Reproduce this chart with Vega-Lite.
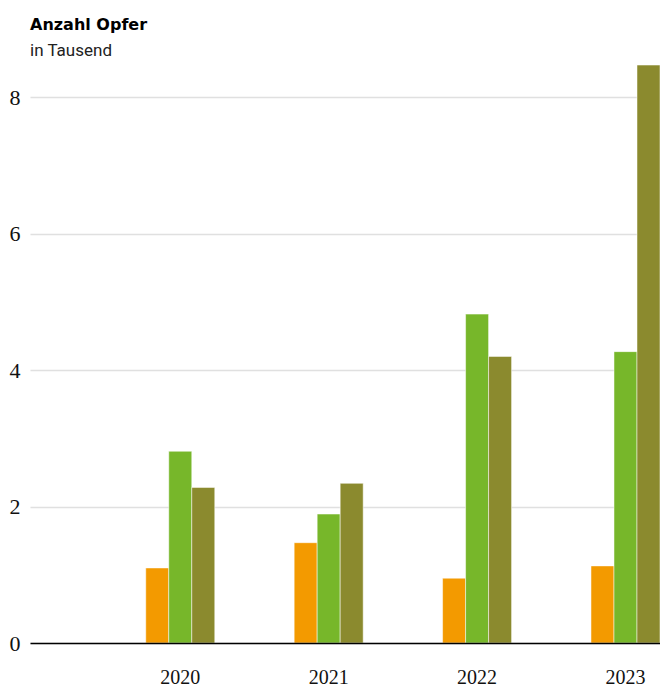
{
  "$schema": "https://vega.github.io/schema/vega-lite/v6.json",
  "autosize": "none",
  "width": 630,
  "height": 580,
  "padding": {"left": 30, "top": 63, "right": 0, "bottom": 44},
  "background": "white",
  "title": {
    "text": "Anzahl Opfer",
    "subtitle": "in Tausend",
    "anchor": "start",
    "frame": "group",
    "font": "DejaVu Sans",
    "fontSize": 16,
    "fontWeight": "bold",
    "color": "#000000",
    "subtitleFont": "Roboto",
    "subtitleFontSize": 17,
    "subtitleColor": "#222222",
    "subtitlePadding": 10,
    "offset": 4
  },
  "data": {
    "values": [
      {"year": "2020", "series": "Serie 1", "value": 1.10},
      {"year": "2020", "series": "Serie 2", "value": 2.81},
      {"year": "2020", "series": "Serie 3", "value": 2.28},
      {"year": "2021", "series": "Serie 1", "value": 1.47},
      {"year": "2021", "series": "Serie 2", "value": 1.89},
      {"year": "2021", "series": "Serie 3", "value": 2.34},
      {"year": "2022", "series": "Serie 1", "value": 0.95},
      {"year": "2022", "series": "Serie 2", "value": 4.82},
      {"year": "2022", "series": "Serie 3", "value": 4.20},
      {"year": "2023", "series": "Serie 1", "value": 1.13},
      {"year": "2023", "series": "Serie 2", "value": 4.27},
      {"year": "2023", "series": "Serie 3", "value": 8.47}
    ]
  },
  "mark": {"type": "bar", "stroke": "white", "strokeWidth": 1, "strokeOpacity": 0.5},
  "encoding": {
    "x": {
      "field": "year",
      "type": "ordinal",
      "scale": {"paddingInner": 0.535, "paddingOuter": 0.39, "align": 1},
      "axis": {
        "title": null,
        "labelAngle": 0,
        "labelFont": "Liberation Serif",
        "labelFontSize": 20,
        "labelColor": "#111111",
        "labelPadding": 24,
        "ticks": false,
        "domain": true,
        "domainColor": "#000000",
        "domainWidth": 1.3,
        "grid": false,
        "zindex": 1
      }
    },
    "xOffset": {
      "field": "series",
      "type": "nominal",
      "scale": {"paddingInner": 0, "paddingOuter": 0}
    },
    "y": {
      "field": "value",
      "type": "quantitative",
      "scale": {"domain": [0, 8.5], "nice": false},
      "axis": {
        "title": null,
        "values": [0, 2, 4, 6, 8],
        "labelFont": "Liberation Serif",
        "labelFontSize": 22,
        "labelColor": "#111111",
        "labelPadding": 10,
        "ticks": false,
        "domain": false,
        "grid": true,
        "gridColor": "#e0e0e0",
        "gridWidth": 1.5
      }
    },
    "color": {
      "field": "series",
      "type": "nominal",
      "scale": {"domain": ["Serie 1", "Serie 2", "Serie 3"], "range": ["#f39a00", "#77b72a", "#8b8a2e"]},
      "legend": null
    }
  },
  "config": {"view": {"stroke": null}}
}
